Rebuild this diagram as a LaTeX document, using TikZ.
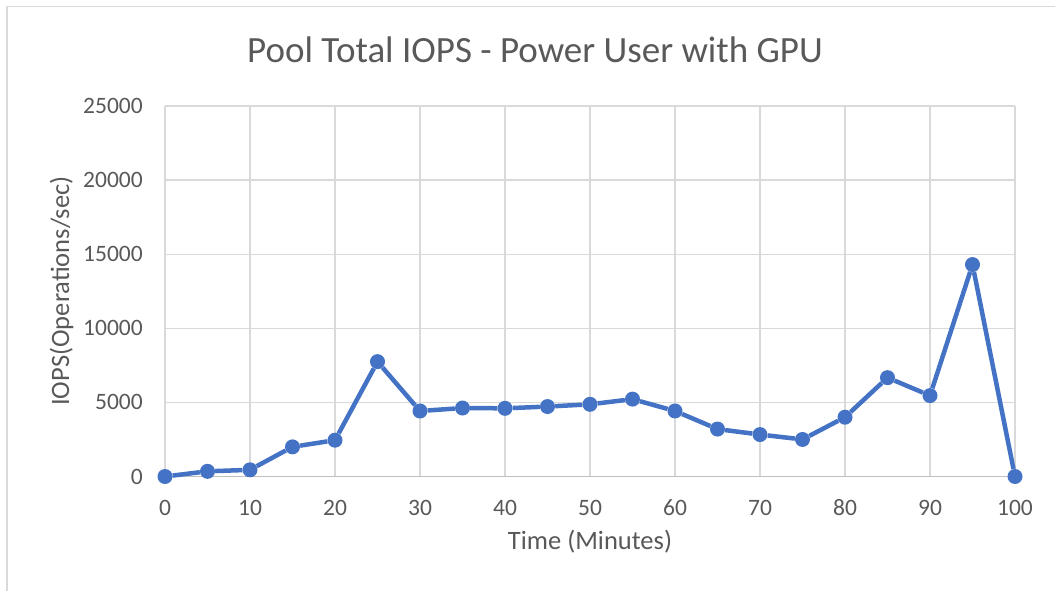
\documentclass[tikz,border=0pt]{standalone}
\usepackage{fontspec}
\setmainfont{Carlito}
\definecolor{series}{HTML}{4472C4}
\definecolor{gridgray}{HTML}{D9D9D9}
\definecolor{axisgray}{HTML}{BFBFBF}
\definecolor{textgray}{HTML}{595959}
\definecolor{framegray}{HTML}{DADADA}
\begin{document}
\begin{tikzpicture}[x=1pt,y=-1pt,
  gridline/.style={draw=gridgray, line width=1.4pt},
  axisline/.style={draw=axisgray, line width=1.6pt},
  ticklabel/.style={text=textgray, inner sep=0pt, font=\fontsize{23.5}{28}\selectfont},
  axistitle/.style={text=textgray, inner sep=0pt, font=\fontsize{26.5}{32}\selectfont},
  charttitle/.style={text=textgray, inner sep=0pt, font=\fontsize{37}{44}\selectfont},
  marker/.style={circle, fill=series, draw=none, minimum size=15pt, inner sep=0pt},
  seriesline/.style={draw=series, line width=4.5pt}]
\useasboundingbox (0,0) rectangle (1055,591);
\fill[white] (0,0) rectangle (1055,591);
% chart frame (top and left edges)
\draw[framegray, line width=1.5pt] (7,591) -- (7,6.5) -- (1055,6.5);
% title
\node[charttitle, anchor=base] (title) at (535,62.5) {Pool Total IOPS - Power User with GPU};
% vertical axis title
\node[axistitle, anchor=base, rotate=90] (ytitle) at (69,291) {IOPS(Operations/sec)};
% plot area: x in minutes, y in thousands of IOPS
\begin{scope}[shift={(165,476.5)}, x=8.5pt, y=14.82pt]
  \foreach \t in {10,20,...,100} \draw[gridline] (\t,0) -- (\t,25);
  \foreach \v in {5,10,...,25} \draw[gridline] (0,\v) -- (100,\v);
  \draw[gridline] (0,0) -- (0,25);
  \draw[axisline] (0,0) -- (100,0);
  % tick labels
  \foreach \v/\lab in {0/0,5/5000,10/10000,15/15000,20/20000,25/25000}
    \node[ticklabel, anchor=east, xshift=-22pt] (ylab\v) at (0,\v) {\lab};
  \foreach \t in {0,10,...,100}
    \node[ticklabel, anchor=base, yshift=-38.5pt] (xlab\t) at (\t,0) {\t};
  % horizontal axis title
  \node[axistitle, anchor=base, yshift=-72.5pt] (xtitle) at (50,0) {Time (Minutes)};
  % data series
  \foreach \t/\v [count=\i from 0] in {0/0,5/0.35,10/0.45,15/2.0,20/2.45,25/7.75,30/4.42,
      35/4.62,40/4.6,45/4.72,50/4.87,55/5.22,60/4.42,65/3.2,70/2.83,75/2.5,80/4.0,
      85/6.67,90/5.46,95/14.3,100/0}
    \node[marker] (m\i) at (\t,\v) {};
  \foreach \i [evaluate=\i as \j using int(\i+1)] in {0,...,19}
    \draw[seriesline] (m\i) -- (m\j);
\end{scope}
\end{tikzpicture}
\end{document}
